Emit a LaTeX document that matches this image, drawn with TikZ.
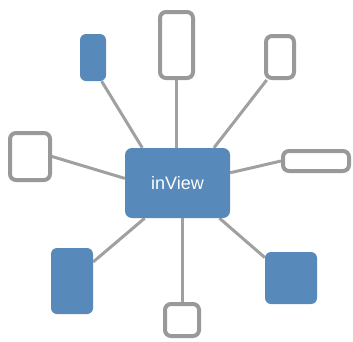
\documentclass[tikz,border=0pt]{standalone}
\usepackage{fontspec}
\setmainfont{Liberation Sans}
\usetikzlibrary{backgrounds}
\definecolor{inblue}{HTML}{5789BA}
\definecolor{boxgray}{HTML}{999999}
\definecolor{linkgray}{HTML}{A0A0A0}
\tikzset{
  hub/.style={fill=inblue, rounded corners=7pt, inner sep=0, text=white, font=\fontsize{18}{20}\selectfont},
  fillbox/.style={fill=inblue, rounded corners=6pt, inner sep=0},
  openbox/.style={draw=boxgray, fill=white, line width=4pt, rounded corners=6pt, inner sep=0},
  link/.style={draw=linkgray, line width=3pt}
}
\begin{document}
\begin{tikzpicture}[x=1pt, y=-1pt]
    \useasboundingbox (0,0) rectangle (353,341);

    \node (hub) at (177.5,183) [hub, minimum width=105pt, minimum height=70pt] {inView};

    \node (tl) at (93,57.5) [fillbox, minimum width=26pt, minimum height=47pt] {};
    \node (tc) at (176.5,45) [openbox, minimum width=33pt, minimum height=66pt] {};
    \node (tr) at (280,57) [openbox, minimum width=28pt, minimum height=42pt] {};
    \node (lf) at (30,156.5) [openbox, minimum width=40pt, minimum height=47pt] {};
    \node (rt) at (316,161) [openbox, minimum width=66pt, minimum height=20pt] {};
    \node (bl) at (72,281) [fillbox, minimum width=42pt, minimum height=66pt] {};
    \node (br) at (291,278) [fillbox, minimum width=52pt, minimum height=52pt] {};
    \node (bc) at (182,320) [openbox, minimum width=34pt, minimum height=32pt] {};

    \begin{pgfonlayer}{background}
        \draw[link] (tl.-70) -- (hub.135);
        \draw[link] (tc.south) -- (tc.south |- hub.north);
        \draw[link] (tr.240) -- (hub.44);
        \draw[link] (lf.east) -- (hub.175);
        \draw[link] (rt.west) -- (hub.11);
        \draw[link] (bl.42) -- (hub.227);
        \draw[link] (bc.north) -- (bc.north |- hub.south);
        \draw[link] (br.142) -- (hub.-40);
    \end{pgfonlayer}
\end{tikzpicture}
\end{document}
